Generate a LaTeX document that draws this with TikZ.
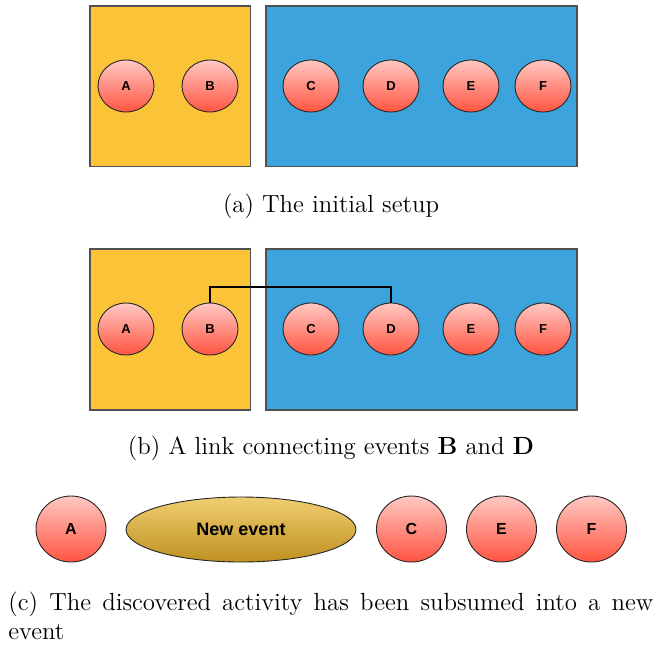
\documentclass[tikz,border=0pt]{standalone}
\usepackage{fontspec}
\newfontfamily\labfont{Liberation Sans}
\usetikzlibrary{shapes.geometric}
\definecolor{boxyellow}{RGB}{251,196,56}
\definecolor{boxblue}{RGB}{60,163,220}
\definecolor{evtop}{RGB}{255,200,195}
\definecolor{evbot}{RGB}{255,84,64}
\definecolor{newtop}{RGB}{240,206,112}
\definecolor{newbot}{RGB}{190,144,32}
\definecolor{edge}{RGB}{80,80,80}
\tikzset{
  grp/.style={draw=edge, line width=0.6pt},
  ev/.style={ellipse, draw=black!85, line width=0.45pt, inner sep=0pt,
    minimum width=28pt, minimum height=26pt, top color=evtop, bottom color=evbot,
    font=\labfont\bfseries\fontsize{6.5}{7}\selectfont},
  evbig/.style={ev, minimum width=35pt, minimum height=33pt,
    font=\labfont\bfseries\fontsize{8}{9}\selectfont},
  newev/.style={ellipse, draw=black!85, line width=0.45pt, inner sep=0pt,
    minimum width=115pt, minimum height=32.5pt, top color=newtop, bottom color=newbot,
    font=\labfont\bfseries\fontsize{9}{10}\selectfont},
  captext/.style={font=\fontsize{12.4}{14.5}\selectfont, inner sep=0pt},
  linkline/.style={line width=1.3pt, black}
}
\begin{document}
\begin{tikzpicture}[x=0.5pt, y=-0.5pt]
\useasboundingbox (0,0) rectangle (653,644);
% (a)
\filldraw[grp, fill=boxyellow] (90,6) rectangle (250.5,166.5);
\filldraw[grp, fill=boxblue] (266,6) rectangle (577,166.5);
\node[ev] (a1) at (126,86) {A};
\node[ev] (b1) at (210,86) {B};
\node[ev] (c1) at (311,86) {C};
\node[ev] (d1) at (391,86) {D};
\node[ev] (e1) at (471,86) {E};
\node[ev] (f1) at (543,86) {F};
\node[captext, anchor=base] (capa) at (331,212) {(a) The initial setup};
% (b)
\filldraw[grp, fill=boxyellow] (90,249) rectangle (250.5,410);
\filldraw[grp, fill=boxblue] (266,249) rectangle (577,410);
\node[ev] (a2) at (126,329) {A};
\node[ev] (b2) at (210,329) {B};
\node[ev] (c2) at (311,329) {C};
\node[ev] (d2) at (391,329) {D};
\node[ev] (e2) at (471,329) {E};
\node[ev] (f2) at (543,329) {F};
\coordinate (lb) at (210,287);
\coordinate (ld) at (391,287);
\draw[linkline] (b2.north) -- (lb) -- (ld) -- (d2.north);
\node[captext, anchor=base] (capb) at (331,454) {(b) A link connecting events \textbf{B} and \textbf{D}};
% (c)
\node[evbig] (a3) at (71,529) {A};
\node[newev] (n3) at (241,529.5) {New event};
\node[evbig] (c3) at (411.5,529) {C};
\node[evbig] (e3) at (501.5,529) {E};
\node[evbig] (f3) at (591.5,529) {F};
\node[captext, anchor=north west, text width=322.5pt, align=justify] (capc) at (8,591.5)
  {(c) The discovered activity has been subsumed into a new event};
\end{tikzpicture}
\end{document}
